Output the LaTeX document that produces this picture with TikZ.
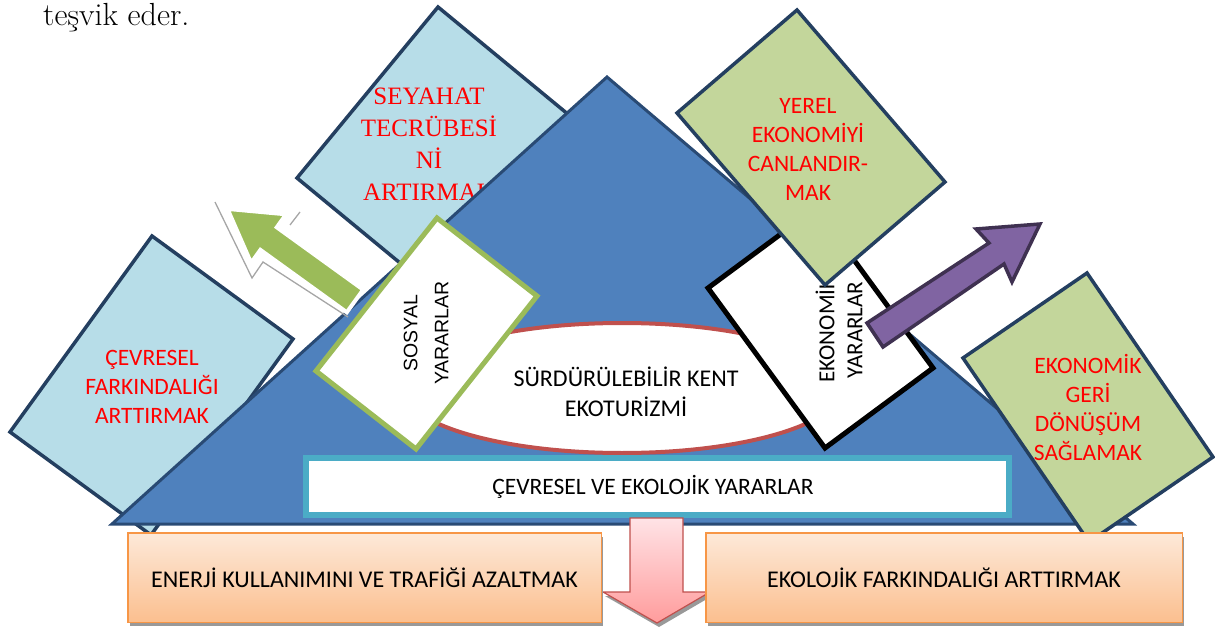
\documentclass[tikz,border=0pt]{standalone}
\usepackage{fontspec}
\newfontfamily\calfont{Carlito}
\newfontfamily\arialfont{Liberation Sans}
\newfontfamily\timesfont{Liberation Serif}
\usetikzlibrary{shapes.geometric,shadows}
\definecolor{navyedge}{HTML}{243F60}
\definecolor{lightbluefill}{HTML}{B7DDE8}
\definecolor{olivefill}{HTML}{C3D69B}
\definecolor{trifill}{HTML}{4F81BD}
\definecolor{triedge}{HTML}{294A74}
\definecolor{arrowgreen}{HTML}{9BBB59}
\definecolor{purplefill}{HTML}{8064A2}
\definecolor{purpleedge}{HTML}{3F3151}
\definecolor{redring}{HTML}{C0504D}
\definecolor{tealedge}{HTML}{4BACC6}
\definecolor{orangeedge}{HTML}{F79646}
\definecolor{orangetop}{HTML}{FDE9D9}
\definecolor{orangebot}{HTML}{FBBF8F}
\definecolor{pinktop}{HTML}{FFE3E6}
\definecolor{pinkbot}{HTML}{FF9C9C}
\definecolor{redtext}{HTML}{FF0000}
\tikzset{
  bluebox/.style={draw=navyedge, line width=3.5pt, fill=lightbluefill},
  greenbox/.style={draw=navyedge, line width=3.5pt, fill=olivefill},
  redlabel/.style={text=redtext, align=center, inner sep=0pt, font=\calfont\fontsize{23.5}{29}\selectfont},
  orangebox/.style={draw=orangeedge, line width=1.5pt, top color=orangetop, bottom color=orangebot,
    minimum height=89.5pt, inner sep=0pt, font=\calfont\fontsize{24}{28}\selectfont,
    drop shadow={shadow xshift=2pt, shadow yshift=-4pt, fill=black!40, opacity=1}},
}
\begin{document}
\begin{tikzpicture}[x=1pt,y=-1pt,line join=miter]
\useasboundingbox (0,0) rectangle (1215,628);

% top text
\node[anchor=base west, inner sep=0pt, font=\fontsize{32}{36}\selectfont] (tesvik) at (43,25.5) {teşvik eder.};

% ÇEVRESEL FARKINDALIĞI box
\coordinate (cT) at (152,236);
\coordinate (cR) at (293,339);
\coordinate (cB) at (151,535);
\coordinate (cL) at (10,432);
\draw[bluebox] (cT) -- (cR) -- (cB) -- (cL) -- cycle;
\node[redlabel] (cevtxt) at (152,387) {ÇEVRESEL\\FARKINDALIĞI\\ARTTIRMAK};

% SEYAHAT box
\coordinate (sT) at (438,7);
\coordinate (sR) at (575,120);
\coordinate (sB) at (434,291);
\coordinate (sL) at (297,178);
\draw[bluebox] (sT) -- (sR) -- (sB) -- (sL) -- cycle;
\node[redlabel, font=\timesfont\fontsize{25}{32}\selectfont] (seytxt) at (429,144) {SEYAHAT\\TECRÜBESİ\\Nİ\\ARTIRMAK};

% big triangle
\coordinate (apex) at (607,77);
\coordinate (baseL) at (112,524);
\coordinate (baseR) at (1133,524);
\draw[draw=triedge, line width=3pt, fill=trifill] (apex) -- (baseR) -- (baseL) -- cycle;

% central ellipse
\node[ellipse, draw=redring, line width=4pt, fill=white, minimum width=440pt, minimum height=130pt, inner sep=0pt] (core) at (622,388) {};
\node[align=center, inner sep=0pt, font=\calfont\fontsize{24}{30}\selectfont] (coretxt) at (626,392) {SÜRDÜRÜLEBİLİR KENT\\EKOTURİZMİ};

% green arrow (with grey shadow line)
\coordinate (gs1) at (215,202);
\coordinate (gs2) at (252,278);
\coordinate (gs3) at (263,262);
\coordinate (gs4) at (348,317);
\coordinate (gs5) at (300,212);
\coordinate (gs6) at (290,225);
\draw[black!35, line width=1.3pt] (gs1) -- (gs2) -- (gs3) -- (gs4);
\draw[black!35, line width=1.3pt] (gs5) -- (gs6);
\coordinate (gTip) at (227.5,208.9);
\coordinate (gW1) at (286.1,214.3);
\coordinate (gJ1) at (276.8,227.3);
\coordinate (gT1) at (363.2,289.7);
\coordinate (gT2) at (346.8,312.3);
\coordinate (gJ2) at (260.4,249.9);
\coordinate (gW2) at (251.1,262.9);
\draw[draw=white, line width=4pt, fill=arrowgreen] (gTip) -- (gW1) -- (gJ1) -- (gT1) -- (gT2) -- (gJ2) -- (gW2) -- cycle;

% SOSYAL YARARLAR box
\coordinate (yT) at (437,218);
\coordinate (yR) at (537,296);
\coordinate (yB) at (416,449);
\coordinate (yL) at (316,371);
\draw[draw=arrowgreen, line width=5pt, fill=white] (yT) -- (yR) -- (yB) -- (yL) -- cycle;
\node[rotate=90, align=center, inner sep=0pt, font=\arialfont\fontsize{19.5}{31}\selectfont] (sostxt) at (426,333) {SOSYAL\\YARARLAR};

% EKONOMİK YARARLAR box
\coordinate (eT) at (816,208);
\coordinate (eR) at (933,368);
\coordinate (eB) at (825,448);
\coordinate (eL) at (708,288);
\draw[draw=black, line width=5pt, fill=white] (eT) -- (eR) -- (eB) -- (eL) -- cycle;
\node[rotate=90, align=center, inner sep=0pt, font=\calfont\fontsize{23}{28}\selectfont] (ekotxt) at (839,330) {EKONOMİK\\YARARLAR};

% YEREL EKONOMİYİ box
\coordinate (rT) at (797,10);
\coordinate (rR) at (945,182);
\coordinate (rB) at (825,285);
\coordinate (rL) at (677,113);
\draw[greenbox] (rT) -- (rR) -- (rB) -- (rL) -- cycle;
\node[redlabel] (yertxt) at (808,149) {YEREL\\EKONOMİYİ\\CANLANDIR-\\MAK};

% purple arrow
\coordinate (pTip) at (1040,224);
\coordinate (pW1) at (976,229);
\coordinate (pJ1) at (989,243);
\coordinate (pT1) at (867,323);
\coordinate (pT2) at (883,347);
\coordinate (pJ2) at (1004,264);
\coordinate (pW2) at (1012,282);
\draw[draw=purpleedge, line width=3.5pt, fill=purplefill] (pTip) -- (pW1) -- (pJ1) -- (pT1) -- (pT2) -- (pJ2) -- (pW2) -- cycle;

% EKONOMİK GERİ DÖNÜŞÜM box
\coordinate (kT) at (1087,273);
\coordinate (kR) at (1213,457);
\coordinate (kB) at (1089,542);
\coordinate (kL) at (963,358);
\draw[greenbox] (kT) -- (kR) -- (kB) -- (kL) -- cycle;
\node[redlabel] (geritxt) at (1088,407) {EKONOMİK\\GERİ\\DÖNÜŞÜM\\SAĞLAMAK};

% ÇEVRESEL VE EKOLOJİK YARARLAR box
\node[draw=tealedge, line width=6pt, fill=white, minimum width=703pt, minimum height=57pt, inner sep=0pt] (eco) at (657.5,486.5) {};
\node[inner sep=0pt, font=\calfont\fontsize{23.5}{28}\selectfont] (ecotxt) at (653,487) {ÇEVRESEL VE EKOLOJİK YARARLAR};

% down arrow
\coordinate (dA) at (630,518);
\coordinate (dB) at (683,518);
\coordinate (dC) at (683,592);
\coordinate (dD) at (710,592);
\coordinate (dTip) at (657,623);
\coordinate (dF) at (603,592);
\coordinate (dG) at (630,592);
\fill[black!40] ([shift={(2,4)}]dC) -- ([shift={(2,4)}]dD) -- ([shift={(2,4)}]dTip) -- ([shift={(2,4)}]dF) -- ([shift={(2,4)}]dG) -- cycle;
\draw[draw=redring, line width=1.2pt, top color=pinktop, bottom color=pinkbot] (dA) -- (dB) -- (dC) -- (dD) -- (dTip) -- (dF) -- (dG) -- cycle;

% bottom orange boxes
\node[orangebox, minimum width=473.5pt] (enerji) at (364.5,577.5) {ENERJİ KULLANIMINI VE TRAFİĞİ AZALTMAK};
\node[orangebox, minimum width=476.5pt] (ekofark) at (944,577.5) {EKOLOJİK FARKINDALIĞI ARTTIRMAK};
\end{tikzpicture}
\end{document}
